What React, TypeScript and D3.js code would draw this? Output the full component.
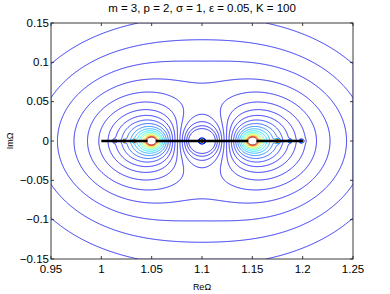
import React from 'react';
import * as d3 from 'd3';

// chart data
const xTicks = [0.95, 1, 1.05, 1.1, 1.15, 1.2, 1.25];
const yTicks = [-0.15, -0.1, -0.05, 0, 0.05, 0.1, 0.15];
const yTickLabels = ['\u22120.15', '\u22120.1', '\u22120.05', '0', '0.05', '0.1', '0.15'];
const xTickLabels = ['0.95', '1', '1.05', '1.1', '1.15', '1.2', '1.25'];
const title = 'm = 3, p = 2, \u03c3 = 1, \u03b5 = 0.05, K = 100';
const xLabel = 'Re\u03a9';
const yLabel = 'Im\u03a9';

// the two strong poles: |1/(z-a) + 1/(z-b)|
const mainPoles = [1.05, 1.15];
// weak eigenvalues on the real axis and their strength
const smallPoles = [1.0136, 1.023, 1.033, 1.1, 1.175, 1.187, 1.199];
const smallStrength = [0.0035, 0.0035, 0.0045, 0.0065, 0.0055, 0.0035, 0.0035];
// continuous spectrum pieces
const spectrumSegments = [[1, 1.046], [1.054, 1.146], [1.154, 1.2]];
// contour levels
const levels = [11.5, 13.5, 15.85, 18.6, 21.8, 25.6, 30.1, 35.3, 41.5, 48.7, 57.2,
    67.1, 78.8, 92.5, 108.6, 127.5, 149.7, 175.7, 206.3];

const W = 390, H = 294;
const margin = {top: 23, right: 37, bottom: 35, left: 51};

function jet(t: number) {
    const c = (v: number) => Math.max(0, Math.min(1, v));
    const r = c(1.5 - Math.abs(4 * t - 3));
    const g = c(1.5 - Math.abs(4 * t - 2));
    const b = c(1.5 - Math.abs(4 * t - 1));
    return d3.rgb(r * 255, g * 255, b * 255).formatHex();
}

export default function App() {
    const x = d3.scaleLinear().domain([0.95, 1.25]).range([margin.left, W - margin.right]);
    const y = d3.scaleLinear().domain([-0.15, 0.15]).range([H - margin.bottom, margin.top]);

    // sample the field on a grid
    const nx = 605, ny = 473;
    const sx = 0.3 / (nx - 1), sy = 0.3 / (ny - 1);
    const values = new Array(nx * ny);
    for (let j = 0; j < ny; j++) {
        const im = -0.15 + j * sy;
        for (let i = 0; i < nx; i++) {
            const re = 0.95 + i * sx;
            let sr = 0, si = 0;
            mainPoles.forEach(p => {
                const dr = re - p, d2 = dr * dr + im * im + 1e-14;
                sr += dr / d2;
                si -= im / d2;
            });
            let v = Math.hypot(sr, si);
            smallPoles.forEach((p, k) => {
                const d2 = (re - p) * (re - p) + im * im + 1e-14;
                const s2 = smallStrength[k] * smallStrength[k];
                v += (s2 * s2) / (d2 * d2);
            });
            values[j * nx + i] = Math.min(v, 1e7);
        }
    }

    const contours = d3.contours().size([nx, ny]).thresholds(levels)(values);
    const proj = d3.geoTransform({
        point: function (gx: number, gy: number) {
            this.stream.point(x(0.95 + (gx - 0.5) * sx), y(-0.15 + (gy - 0.5) * sy));
        }
    });
    const path = d3.geoPath(proj);

    const lmin = d3.min(levels) as number, lmax = d3.max(levels) as number;
    const color = (l: number) => jet(Math.max(0.11, (l - lmin) / (lmax - lmin)));

    const x0 = margin.left, x1 = W - margin.right, y0 = margin.top, y1 = H - margin.bottom;
    const font = 'Liberation Sans, Arial, Helvetica, sans-serif';
    const axisColor = '#262626';

    return (
        <svg width={W} height={H} style={{position: 'absolute', left: 0, top: 0, background: '#fff'}}>
            <defs>
                <clipPath id="plot">
                    <rect x={x0} y={y0} width={x1 - x0} height={y1 - y0} />
                </clipPath>
            </defs>
            <rect x={0} y={0} width={W} height={H} fill="#fff" />
            <g clipPath="url(#plot)">
                {contours.map((c, i) => (
                    <path key={i} d={path(c as any) || ''} fill="none" stroke={color(c.value)} strokeWidth={0.8} />
                ))}
                {spectrumSegments.map((s, i) => (
                    <line key={i} x1={x(s[0])} x2={x(s[1])} y1={y(0)} y2={y(0)} stroke="#000" strokeWidth={2.6} />
                ))}
            </g>
            {/* box and ticks */}
            <rect x={x0} y={y0} width={x1 - x0} height={y1 - y0} fill="none" stroke={axisColor} strokeWidth={0.9} />
            {xTicks.map((t, i) => (
                <g key={'x' + i}>
                    <line x1={x(t)} x2={x(t)} y1={y1} y2={y1 - 3} stroke={axisColor} strokeWidth={0.9} />
                    <line x1={x(t)} x2={x(t)} y1={y0} y2={y0 + 3} stroke={axisColor} strokeWidth={0.9} />
                    <text x={x(t)} y={y1 + 14} textAnchor="middle" fontSize={11.5} fontFamily={font}>{xTickLabels[i]}</text>
                </g>
            ))}
            {yTicks.map((t, i) => (
                <g key={'y' + i}>
                    <line x1={x0} x2={x0 + 3} y1={y(t)} y2={y(t)} stroke={axisColor} strokeWidth={0.9} />
                    <line x1={x1} x2={x1 - 3} y1={y(t)} y2={y(t)} stroke={axisColor} strokeWidth={0.9} />
                    <text x={x0 - 2} y={y(t) + 3.5} textAnchor="end" fontSize={11.5} fontFamily={font}>{yTickLabels[i]}</text>
                </g>
            ))}
            <text x={(x0 + x1) / 2} y={12} textAnchor="middle" fontSize={11.5} fontFamily={font}>{title}</text>
            <text x={(x0 + x1) / 2} y={290} textAnchor="middle" fontSize={9} fontFamily={font}>{xLabel}</text>
            <text transform={`translate(13,${(y0 + y1) / 2}) rotate(-90)`} textAnchor="middle" fontSize={9} fontFamily={font}>{yLabel}</text>
        </svg>
    );
}
